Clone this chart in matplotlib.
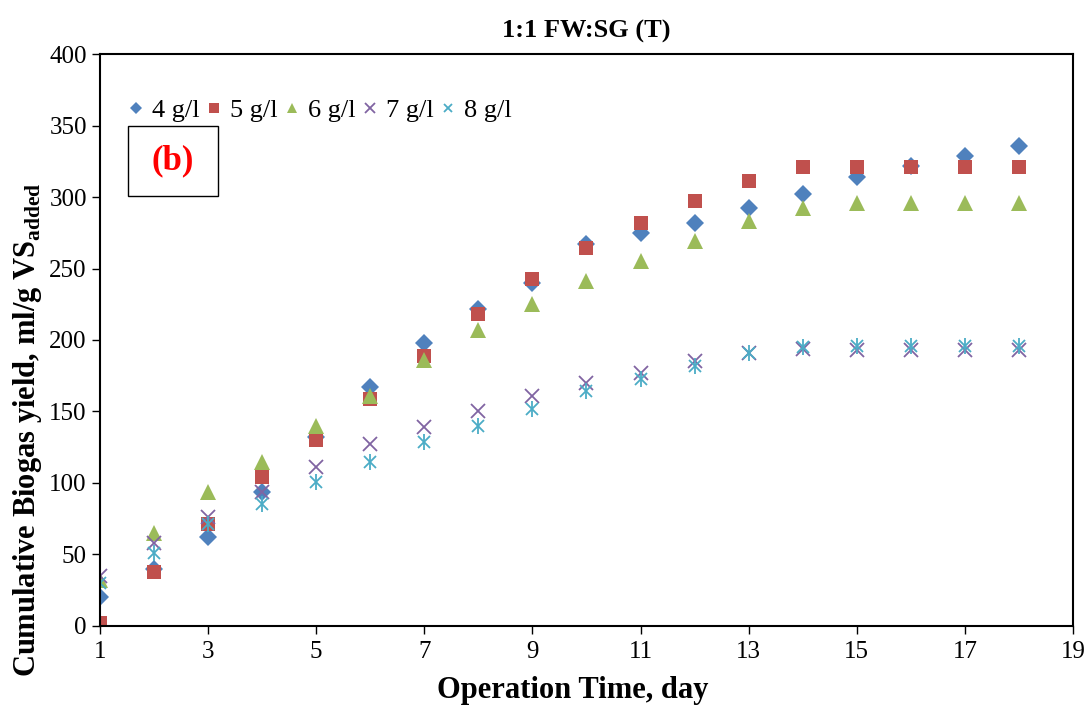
import matplotlib
matplotlib.use("Agg")
import matplotlib.pyplot as plt
from matplotlib.patches import Rectangle

plt.rcParams["font.family"] = ["Liberation Serif", "DejaVu Serif"]
plt.rcParams["mathtext.fontset"] = "custom"
plt.rcParams["mathtext.rm"] = "Liberation Serif"
plt.rcParams["mathtext.bf"] = "Liberation Serif:bold"

# operation days
days = list(range(1, 19))

# cumulative biogas yield, ml/g VS added
yield_4 = [20, 40, 62, 94, 132, 167, 198, 222, 240, 267, 275, 282, 292, 302, 314, 322, 329, 336]
yield_5 = [2, 38, 71, 104, 130, 159, 189, 218, 243, 264, 282, 297, 311, 321, 321, 321, 321, 321]
yield_6 = [32, 65, 94, 115, 140, 161, 186, 207, 225, 241, 255, 269, 283, 292, 296, 296, 296, 296]
yield_7 = [35, 58, 76, 94, 111, 127, 139, 150, 161, 170, 177, 185, 191, 194, 193, 193, 193, 193]
yield_8 = [30, 51, 71, 85, 101, 115, 129, 140, 152, 164, 173, 182, 191, 195, 196, 196, 196, 196]

labels = ["4 g/l", "5 g/l", "6 g/l", "7 g/l", "8 g/l"]
series = [yield_4, yield_5, yield_6, yield_7, yield_8]
colors = ["#4F81BD", "#C0504D", "#9BBB59", "#8064A2", "#4BACC6"]
markers = ["D", "s", "^", "x", "*"]

fig = plt.figure(figsize=(10.89, 7.07), dpi=100)
ax = fig.add_axes([0.0918, 0.1146, 0.8935, 0.809])

sizes = [9, 9.5, 11, 10, 11]
for vals, lab, col, mk, ms in zip(series, labels, colors, markers, sizes):
    if mk == "x":
        ax.plot(days, vals, ls="none", marker=mk, color=col, ms=ms, mew=1.3, label=lab)
    elif mk == "*":
        # asterisk: cross plus vertical bar
        ax.plot(days, vals, ls="none", marker="x", color=col, ms=9, mew=1.3, label=lab)
        ax.plot(days, vals, ls="none", marker="|", color=col, ms=12, mew=1.3)
    else:
        ax.plot(days, vals, ls="none", marker=mk, color=col, ms=ms, mew=0, label=lab)

ax.set_xlim(1, 19)
ax.set_ylim(0, 400)
ax.set_xticks(range(1, 20, 2))
ax.set_yticks(range(0, 401, 50))
ax.tick_params(axis="both", which="major", labelsize=18, direction="out", length=6, width=1)
ax.tick_params(axis="x", pad=5)
for sp in ax.spines.values():
    sp.set_linewidth(1.5)

ax.set_title("1:1 FW:SG (T)", fontsize=19, fontweight="bold", pad=12)
ax.set_xlabel("Operation Time, day", fontsize=22, fontweight="bold")
ax.set_ylabel(r"Cumulative Biogas yield, ml/g VS$_{\mathbf{added}}$", fontsize=22,
              fontweight="bold")
ax.xaxis.set_label_coords(0.486, -0.087)
ax.yaxis.set_label_coords(-0.058, 0.343)

leg = ax.legend(loc="center left", bbox_to_anchor=(0.029, 0.902), ncol=5, frameon=False,
                fontsize=19, handlelength=0.6, handletextpad=0.3, columnspacing=0.25,
                markerscale=0.7, borderaxespad=0, borderpad=0)

# (b) panel tag
ax.add_patch(Rectangle((0.029, 0.752), 0.092, 0.122, transform=ax.transAxes,
                       fill=False, edgecolor="black", linewidth=1))
ax.text(0.075, 0.814, "(b)", transform=ax.transAxes, color="red", fontsize=25,
        fontweight="bold", ha="center", va="center")

fig.savefig("out.png", dpi=100)
